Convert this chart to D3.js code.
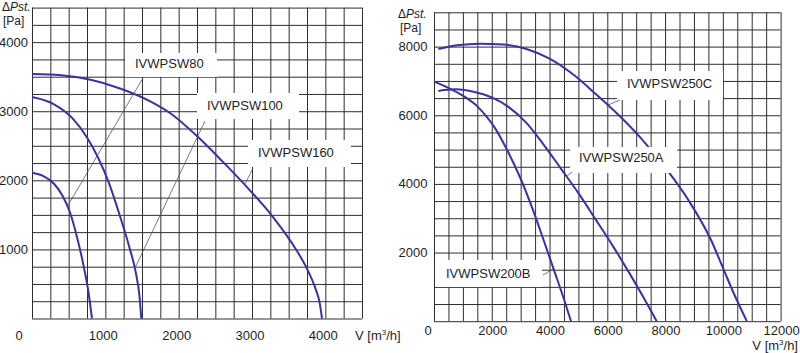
<!DOCTYPE html>
<html>
<head>
<meta charset="utf-8">
<script src="https://cdn.jsdelivr.net/npm/d3@7"></script>
<style>
  body { margin: 0; background: #fff; }
  svg { display: block; font-family: "Liberation Sans", Arial, sans-serif; }
  .grid line { stroke: #2e2e2e; stroke-width: 1; }
  .curve { fill: none; stroke: #3833a3; stroke-width: 2; }
  .leader { stroke: #555; stroke-width: 0.8; }
  .lbl { font-size: 13px; fill: #1e1e1e; }
  .head { font-size: 12px; fill: #1e1e1e; }
</style>
</head>
<body>
<svg width="800" height="353"></svg>
<script>
// ---- left chart data (V in m3/h, dPst in Pa)
const leftXTicks = [0, 1000, 2000, 3000, 4000];
const leftYTicks = [1000, 2000, 3000, 4000];
const leftNames = ['IVWPSW80', 'IVWPSW100', 'IVWPSW160'];

const v80 = [0, 150, 300, 420, 520, 620, 700, 770, 818];
const p80 = [2110, 2065, 1950, 1770, 1530, 1150, 780, 380, 0];

const v100 = [0, 300, 550, 750, 900, 1050, 1200, 1320, 1420, 1465, 1490];
const p100 = [3205, 3100, 2900, 2620, 2330, 1960, 1480, 1060, 640, 330, 0];

const v160 = [0, 400, 800, 1200, 1600, 1900, 2250, 2600, 2950, 3300, 3600, 3750, 3860, 3920, 3955];
const p160 = [3538, 3520, 3455, 3330, 3150, 2960, 2640, 2270, 1880, 1450, 1000, 720, 450, 240, 0];

// ---- right chart data
const rightXTicks = [0, 2000, 4000, 6000, 8000, 10000, 12000];
const rightYTicks = [2000, 4000, 6000, 8000];
const rightNames = ['IVWPSW200B', 'IVWPSW250A', 'IVWPSW250C'];

const v200B = [0, 500, 1000, 1500, 1800, 2100, 2500, 3000, 3400, 3800, 4200, 4500, 4743];
const p200B = [6980, 6800, 6570, 6260, 5980, 5640, 5040, 4150, 3300, 2350, 1380, 640, 0];

const v250A = [150, 750, 1400, 2000, 2600, 3200, 3800, 4400, 5000, 5600, 6200, 6800, 7250, 7710];
const p250A = [6710, 6755, 6680, 6520, 6230, 5780, 5140, 4440, 3730, 2960, 2180, 1350, 700, 0];

const v250C = [150, 800, 1600, 2400, 3200, 4000, 4800, 5600, 6400, 7200, 8000, 8800, 9600, 10000, 10400, 10830];
const p250C = [7930, 8040, 8085, 8060, 7930, 7650, 7200, 6620, 6000, 5300, 4480, 3540, 2350, 1560, 770, 0];

const svg = d3.select('svg');

// layout of the two panels (pixels)
const leftPanel = {
  left: 32, right: 362, top: 7.6, bottom: 318.5,
  vMax: 4500, pMax: 4500, vStep: 250, pStep: 250,
  xTicks: leftXTicks, yTicks: leftYTicks,
  xLabelY: 339.5, xLabelDx: -2, zeroDx: -13, yLabelX: 28,
  series: [[v80, p80], [v100, p100], [v160, p160]],
  head: [2, 11, 3, 25],
  vTitle: { x: 355, y: 339.5, anchor: 'start' },
  tags: [
    { box: [125, 53, 92, 24], tx: 135, ty: 67.6, leader: [[143, 78], [67, 207]] },
    { box: [197, 93, 102, 26], tx: 207, ty: 109.6, leader: [[205, 121], [135, 268]] },
    { box: [248, 140, 103, 27], tx: 258, ty: 156.6, leader: [[253, 168], [245, 184]] }
  ],
  names: leftNames
};

const rightPanel = {
  left: 434, right: 780.6, top: 12.3, bottom: 321.2,
  vMax: 12000, pMax: 9000, vStep: 500, pStep: 500,
  xTicks: rightXTicks, yTicks: rightYTicks,
  xLabelY: 334.5, xLabelDx: 1, zeroDx: -6, yLabelX: 427.5,
  series: [[v200B, p200B], [v250A, p250A], [v250C, p250C]],
  head: [398, 17.5, 400, 31.5],
  vTitle: { x: 798, y: 349.5, anchor: 'end' },
  tags: [
    { box: [435, 260, 107, 27], tx: 446, ty: 277.6, leader: [[543, 275], [553, 269]] },
    { box: [570, 147, 107, 26], tx: 579, ty: 161.6, leader: [[572, 172], [566, 177]] },
    { box: [617, 71, 106, 29], tx: 627, ty: 87.6, leader: [[620, 100], [608, 105]] }
  ],
  names: rightNames
};

function drawPanel(cfg) {
  const x = d3.scaleLinear().domain([0, cfg.vMax]).range([cfg.left, cfg.right]);
  const y = d3.scaleLinear().domain([0, cfg.pMax]).range([cfg.bottom, cfg.top]);
  const g = svg.append('g');

  // grid (every 250 / 500 units)
  g.append('g')
    .attr('class', 'grid')
    .attr('transform', `translate(0,${cfg.bottom})`)
    .call(d3.axisBottom(x)
      .tickValues(d3.range(0, cfg.vMax + 1, cfg.vStep))
      .tickSize(-(cfg.bottom - cfg.top))
      .tickFormat(''))
    .call(s => s.select('.domain').remove());

  g.append('g')
    .attr('class', 'grid')
    .attr('transform', `translate(${cfg.left},0)`)
    .call(d3.axisLeft(y)
      .tickValues(d3.range(0, cfg.pMax + 1, cfg.pStep))
      .tickSize(-(cfg.right - cfg.left))
      .tickFormat(''))
    .call(s => s.select('.domain').remove());

  // curves
  const line = d3.line()
    .x(d => x(d[0]))
    .y(d => y(d[1]))
    .curve(d3.curveMonotoneX);

  g.selectAll('.curve')
    .data(cfg.series)
    .enter()
    .append('path')
    .attr('class', 'curve')
    .attr('d', s => line(d3.zip(s[0], s[1])));

  // tick labels
  g.selectAll('.xl')
    .data(cfg.xTicks)
    .enter()
    .append('text')
    .attr('class', 'lbl')
    .attr('x', d => x(d) + (d === 0 ? cfg.zeroDx : cfg.xLabelDx))
    .attr('y', cfg.xLabelY)
    .attr('text-anchor', 'middle')
    .text(d => d);

  g.selectAll('.yl')
    .data(cfg.yTicks)
    .enter()
    .append('text')
    .attr('class', 'lbl')
    .attr('x', cfg.yLabelX)
    .attr('y', d => y(d))
    .attr('dy', '0.35em')
    .attr('text-anchor', 'end')
    .text(d => d);

  // axis titles
  const h = g.append('text').attr('class', 'head').attr('x', cfg.head[0]).attr('y', cfg.head[1]);
  h.append('tspan').text('\u0394');
  h.append('tspan').attr('font-style', 'italic').text('Pst.');
  g.append('text').attr('class', 'head').attr('x', cfg.head[2]).attr('y', cfg.head[3]).text('[Pa]');

  const vt = g.append('text').attr('class', 'lbl')
    .attr('x', cfg.vTitle.x).attr('y', cfg.vTitle.y)
    .attr('text-anchor', cfg.vTitle.anchor);
  vt.append('tspan').text('V [m');
  vt.append('tspan').attr('font-size', '8px').attr('dy', '-5').text('3');
  vt.append('tspan').attr('dy', '5').text('/h]');

  // series name tags
  cfg.tags.forEach((t, i) => {
    g.append('rect')
      .attr('x', t.box[0]).attr('y', t.box[1])
      .attr('width', t.box[2]).attr('height', t.box[3])
      .attr('fill', '#fff');
    g.append('line')
      .attr('class', 'leader')
      .attr('x1', t.leader[0][0]).attr('y1', t.leader[0][1])
      .attr('x2', t.leader[1][0]).attr('y2', t.leader[1][1]);
    g.append('text')
      .attr('class', 'lbl')
      .attr('x', t.tx).attr('y', t.ty)
      .text(cfg.names[i]);
  });
}

drawPanel(leftPanel);
drawPanel(rightPanel);
</script>
</body>
</html>
